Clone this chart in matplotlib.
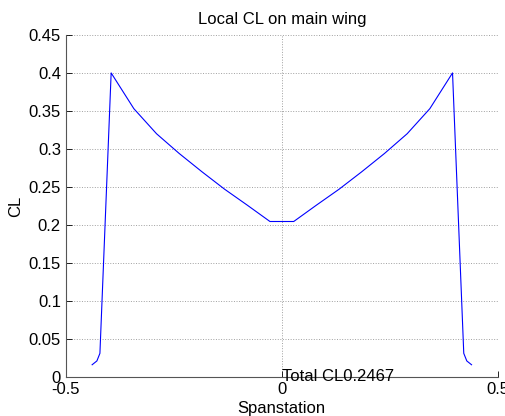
import matplotlib.pyplot as plt

plt.rcParams['font.family'] = ['Liberation Sans', 'DejaVu Sans']

# spanwise stations and local lift coefficient on the main wing
span = [-0.439, -0.428, -0.421, -0.395, -0.3425, -0.290, -0.2375, -0.185, -0.1325, -0.080, -0.0275,
        0.0275, 0.080, 0.1325, 0.185, 0.2375, 0.290, 0.3425, 0.395, 0.421, 0.428, 0.439]
cl = [0.016, 0.021, 0.031, 0.400, 0.353, 0.320, 0.294, 0.270, 0.247, 0.226, 0.2045,
      0.2045, 0.226, 0.247, 0.270, 0.294, 0.320, 0.353, 0.400, 0.031, 0.021, 0.016]
total_cl = 0.2467

xticks = [-0.5, 0, 0.5]
xlabels = ['-0.5', '0', '0.5']
yticks = [0, 0.05, 0.1, 0.15, 0.2, 0.25, 0.3, 0.35, 0.4, 0.45]
ylabels = ['0', '0.05', '0.1', '0.15', '0.2', '0.25', '0.3', '0.35', '0.4', '0.45']

fig = plt.figure(figsize=(5.06, 4.16), dpi=100)
ax = fig.add_axes([0.130, 0.094, 0.854, 0.822])
ax.plot(span, cl, color='#0000ff', lw=0.8)
ax.set_xlim(-0.5, 0.5)
ax.set_ylim(0, 0.45)
ax.set_xticks(xticks)
ax.set_xticklabels(xlabels)
ax.set_yticks(yticks)
ax.set_yticklabels(ylabels)
ax.tick_params(direction='in', length=4, labelsize=12, width=0.6)
ax.grid(True, linestyle=':', color='#a0a0a0', lw=0.7)
ax.spines['top'].set_visible(False)
ax.spines['right'].set_visible(False)
ax.spines['left'].set_color('#555555')
ax.spines['bottom'].set_color('#555555')
ax.set_title('Local CL on main wing', fontsize=12, pad=8)
ax.set_xlabel('Spanstation', fontsize=12, labelpad=3)
ax.set_ylabel('CL', fontsize=12, labelpad=4)
ax.text(0, 0, 'Total CL' + str(total_cl), fontsize=12, ha='left', va='center')

fig.savefig('out.png')
